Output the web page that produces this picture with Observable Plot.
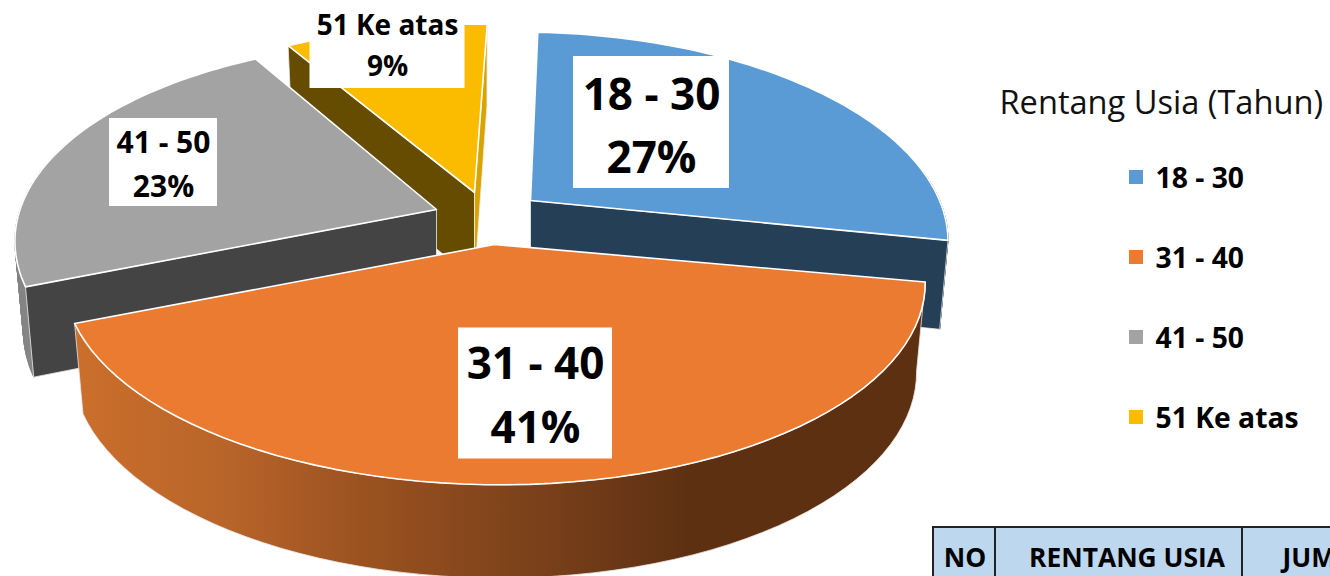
<!DOCTYPE html>
<html>
<head>
<meta charset="utf-8">
<style>html,body{margin:0;padding:0;background:#fff;overflow:hidden}svg{display:block}</style>
<script src="https://cdn.jsdelivr.net/npm/d3@7"></script>
<script src="https://cdn.jsdelivr.net/npm/@observablehq/plot@0.6"></script>
</head>
<body>
<div id="chart"></div>
<script>
const categories = ["18 - 30", "31 - 40", "41 - 50", "51 Ke atas"];
const shares = [27.4, 41, 22.9, 8.7];
const topColors = ["#5b9bd5", "#ea7b31", "#a3a3a3", "#fbbc00"];
const wallColors = ["#243f56", "#5e3012", "#444444", "#664c00"];
const legendTitle = "Rentang Usia (Tahun)";
const tableHeaders = ["NO", "RENTANG USIA", "JUMLAH"];

const FONT = "'Open Sans', Lato, sans-serif";
// view geometry of the exploded, perspective pie
const startAngle = 1.2, persp = 0.176, radiusY = 198, shrink = 0.98;
const hub = [[530, 200], [494, 244], [436, 209], [474, 192]];
const radiusX = [411, 424, 415, 428];
const tilt = [0.012, 0.006, 0.01, -0.01];
const depth = v => 88 - 10 * v;

let acc = startAngle;
const slices = categories.map((name, i) => {
  const a0 = acc, a1 = acc + shares[i] * 3.6; acc = a1;
  return {name, share: Math.round(shares[i]), a0, a1, i, cx: hub[i][0], cy: hub[i][1], rx: radiusX[i], tilt: tilt[i]};
});
slices[3].a1 += 0.8; // the last slice's far edge leans a little past the first slice's start in the drawing
function topPt(s, deg) {
  const t = deg * Math.PI / 180, u = Math.sin(t), v = Math.cos(t), d = 1 + persp * v;
  const dx = s.rx * u / d;
  return {x: s.cx + dx, y: s.cy - radiusY * v / d + s.tilt * dx};
}
function botPt(s, deg) {
  const t = deg * Math.PI / 180, v = Math.cos(t), p = topPt(s, deg);
  return {x: s.cx + shrink * (p.x - s.cx), y: s.cy + shrink * (p.y - s.cy) + depth(v)};
}
const hubTop = s => ({x: s.cx, y: s.cy});
const hubBot = s => ({x: s.cx, y: s.cy + depth(0)});
const arc = (s, a, b, f) => d3.range(0, 61).map(k => f(s, a + (b - a) * k / 60));
const close = p => [...p, p[0]];

const face = (pts, fill, stroke = "#fff", strokeWidth = 1.6) =>
  Plot.line(close(pts), {x: "x", y: "y", fill, stroke, strokeWidth, strokeLinejoin: "round"});

const topFace = s => face([hubTop(s), ...arc(s, s.a0, s.a1, topPt)], topColors[s.i]);
const outer = (s, a, b, fill) => face([...arc(s, a, b, topPt), ...arc(s, a, b, botPt).reverse()], fill, "#e8e8e8", 0.8);
// rim built as small quads, so its silhouette fills correctly where it folds
const rim = (s, a, b, fill) => {
  const rows = [];
  const n = 60;
  for (let k = 0; k < n; k++) {
    const p = a + (b - a) * k / n, q = a + (b - a) * (k + 1) / n;
    close([topPt(s, p), topPt(s, q), botPt(s, q), botPt(s, p)]).forEach(r => rows.push({...r, id: k}));
  }
  return Plot.line(rows, {x: "x", y: "y", z: "id", fill, stroke: fill, strokeWidth: 1});
};
const wall = (s, deg, fill) => face([hubTop(s), topPt(s, deg), botPt(s, deg), hubBot(s)], fill, "#eee", 0.8);

const [blue, orange, grey, yellow] = slices;

// label placement: centre of the white box relative to each slice's hub, and box size
const labelBoxes = [
  {dx: 121, dy: -78, w: 156, h: 132, size: 44, lh: 1.43, up: 1.5},
  {dx: 41, dy: 149, w: 154, h: 131, size: 44, lh: 1.46, up: 3},
  {dx: -273, dy: -47, w: 108, h: 88, size: 30, lh: 1.47, up: 2},
  {dx: -87, dy: -148, w: 155, h: 88, size: 28, lh: 1.46, up: 2}
];
const labels = slices.map((s, i) => ({
  text: `${s.name}\n${s.share}%`,
  x: s.cx + labelBoxes[i].dx, y: s.cy + labelBoxes[i].dy,
  w: labelBoxes[i].w, h: labelBoxes[i].h, size: labelBoxes[i].size, lh: labelBoxes[i].lh, up: labelBoxes[i].up
}));

const legendRows = categories.map((name, i) => ({name, color: topColors[i], y: 177 + i * 80}));
const tableCols = [{x1: 933, x2: 995}, {x1: 995, x2: 1242}, {x1: 1242, x2: 1400}];
const tableText = [{x: 964.5, a: "middle"}, {x: 1126.5, a: "middle"}, {x: 1282, a: "start"}];

const gradient = () => {
  const g = d3.create("svg:linearGradient").attr("id", "orangeSide").attr("x1", 0).attr("x2", 1).attr("y1", 0).attr("y2", 0);
  [[0, "#cb6f2b"], [0.18, "#b8642a"], [0.34, "#9b5220"], [0.55, "#79401a"], [0.72, "#5e3012"], [1, "#5e3012"]]
    .forEach(([o, c]) => g.append("stop").attr("offset", o).attr("stop-color", c));
  const d = d3.create("svg:defs"); d.append(() => g.node());
  return d.node();
};

const chart = Plot.plot({
  width: 1330, height: 576, margin: 0,
  x: {domain: [0, 1330], range: [0, 1330], axis: null},
  y: {domain: [0, 576], range: [0, 576], axis: null},
  style: {background: "#fff", fontFamily: FONT},
  marks: [
    gradient,
    // farthest slice first
    wall(yellow, yellow.a0, wallColors[3]),
    face([topPt(yellow, yellow.a1), hubTop(yellow), hubBot(yellow), botPt(yellow, yellow.a1)], "#d9a400", "#eee", 0.8),
    topFace(yellow),
    rim(grey, grey.a0, 290, "#858585"),
    wall(grey, grey.a0, wallColors[2]),
    topFace(grey),
    rim(blue, 80, blue.a1, wallColors[0]),
    wall(blue, blue.a1, wallColors[0]),
    topFace(blue),
    outer(orange, orange.a0, orange.a1, "url(#orangeSide)"),
    topFace(orange),
    // data labels
    Plot.rect(labels, {x1: d => d.x - d.w / 2, x2: d => d.x + d.w / 2, y1: d => d.y - d.h / 2, y2: d => d.y + d.h / 2, fill: "#fff"}),
    ...labels.map(d => Plot.text([d], {x: "x", y: e => e.y - e.up, text: "text", fontSize: d.size, fontWeight: 700, fill: "#000", lineHeight: d.lh, textAnchor: "middle", fontFamily: FONT})),
    // legend
    Plot.text([legendTitle], {x: 999, y: 103, text: d => d, fontSize: 32.6, fontFamily: FONT, textAnchor: "start", fill: "#111"}),
    Plot.rect(legendRows, {x1: 1129, x2: 1143, y1: d => d.y - 7, y2: d => d.y + 7, fill: "color"}),
    Plot.text(legendRows, {x: 1155, y: d => d.y + 1.5, text: "name", fontSize: 28.3, fontWeight: 700, fontFamily: FONT, textAnchor: "start", fill: "#000"}),
    // table header
    Plot.rect(tableCols, {x1: "x1", x2: "x2", y1: 527, y2: 620, fill: "#bdd7ee", stroke: "#222", strokeWidth: 2}),
    ...tableHeaders.map((h, i) => Plot.text([h], {x: tableText[i].x, y: 558, text: d => d, fontSize: 26.4, fontWeight: 700, fontFamily: FONT, textAnchor: tableText[i].a, fill: "#000"}))
  ]
});
document.getElementById("chart").append(chart);
</script>
</body>
</html>
